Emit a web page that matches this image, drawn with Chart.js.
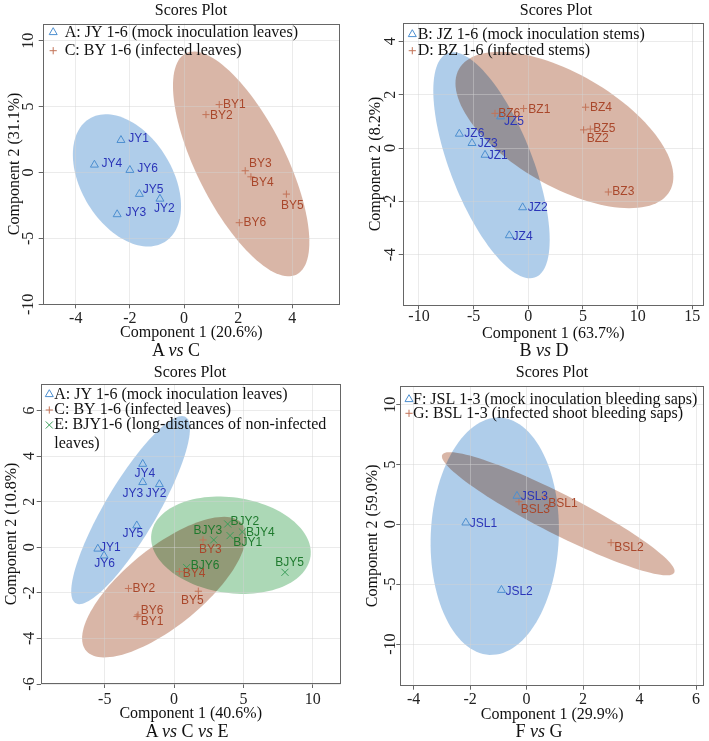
<!DOCTYPE html>
<html><head><meta charset="utf-8">
<script src="https://cdn.jsdelivr.net/npm/chart.js@4.4.1/dist/chart.umd.min.js"></script>
<style>
html,body{margin:0;padding:0;background:#fff;}
#wrap{position:relative;width:709px;height:741px;overflow:hidden;font-family:"Liberation Serif","Times New Roman",serif;color:#111;}
canvas{position:absolute;}
.t{position:absolute;transform:translate(-50%,-50%);white-space:nowrap;font-size:16px;line-height:1;}
.s{font-size:18px;}
</style></head><body><div id="wrap">
<canvas id="c1" width="355" height="370" style="left:0;top:0;width:355px;height:370px"></canvas>
<canvas id="c2" width="354" height="370" style="left:355px;top:0;width:354px;height:370px"></canvas>
<canvas id="c3" width="355" height="371" style="left:0;top:370px;width:355px;height:371px"></canvas>
<canvas id="c4" width="354" height="371" style="left:355px;top:370px;width:354px;height:371px"></canvas>
<div class="t" style="left:191px;top:10px">Scores Plot</div>
<div class="t" style="left:556px;top:10px">Scores Plot</div>
<div class="t" style="left:190px;top:372px">Scores Plot</div>
<div class="t" style="left:552px;top:372px">Scores Plot</div>
<div class="t s" style="left:176px;top:350px">A <i>vs</i> C</div>
<div class="t s" style="left:544px;top:350px">B <i>vs</i> D</div>
<div class="t s" style="left:187px;top:731px">A <i>vs</i> C <i>vs</i> E</div>
<div class="t s" style="left:539px;top:731px">F <i>vs</i> G</div>
</div>
<script>
// ---------------- DATA ----------------
// Panel A vs C
const AC_JY_NAMES = ['JY1','JY2','JY3','JY4','JY5','JY6'];
const AC_JY_X = [-2.33,-0.89,-2.47,-3.31,-1.65,-2.00];
const AC_JY_Y = [2.45,-2.00,-3.18,0.58,-1.64,0.18];
const AC_BY_NAMES = ['BY1','BY2','BY3','BY4','BY5','BY6'];
const AC_BY_X = [1.30,0.81,2.26,2.47,3.78,2.04];
const AC_BY_Y = [5.15,4.39,0.13,-0.33,-1.64,-3.81];
const AC_X_TICKS = [-4,-2,0,2,4];
const AC_Y_TICKS = [-10,-5,0,5,10];

// Panel B vs D
const BD_JZ_NAMES = ['JZ1','JZ2','JZ3','JZ4','JZ5','JZ6'];
const BD_JZ_X = [-3.96,-0.52,-5.15,-1.74,-2.53,-6.31];
const BD_JZ_Y = [-0.26,-2.23,0.18,-3.28,1.18,0.53];
const BD_BZ_NAMES = ['BZ1','BZ2','BZ3','BZ4','BZ5','BZ6'];
const BD_BZ_X = [-0.43,5.06,7.32,5.24,5.67,-3.05];
const BD_BZ_Y = [1.48,0.68,-1.65,1.53,0.71,1.30];
const BD_X_TICKS = [-10,-5,0,5,10,15];
const BD_Y_TICKS = [-4,-2,0,2,4];

// Panel A vs C vs E
const ACE_JY_NAMES = ['JY1','JY2','JY3','JY4','JY5','JY6'];
const ACE_JY_X = [-5.50,-1.06,-2.26,-2.26,-2.69,-5.05];
const ACE_JY_Y = [-0.07,2.76,2.85,3.65,0.95,-0.37];
const ACE_BY_NAMES = ['BY1','BY2','BY3','BY4','BY5','BY6'];
const ACE_BY_X = [-2.67,-3.29,2.09,0.38,1.75,-2.60];
const ACE_BY_Y = [-3.04,-1.81,0.32,-1.07,-1.93,-2.97];
const ACE_BJY_NAMES = ['BJY1','BJY2','BJY3','BJY4','BJY5','BJY6'];
const ACE_BJY_X = [4.04,3.87,2.86,4.93,8.00,0.91];
const ACE_BJY_Y = [0.51,1.02,0.32,0.67,-1.10,-0.89];
const ACE_X_TICKS = [-5,0,5,10];
const ACE_Y_TICKS = [-6,-4,-2,0,2,4,6];

// Panel F vs G
const FG_JSL_NAMES = ['JSL1','JSL2','JSL3'];
const FG_JSL_X = [-2.15,-0.89,-0.34];
const FG_JSL_Y = [0.14,-5.49,2.37];
const FG_BSL_NAMES = ['BSL1','BSL2','BSL3'];
const FG_BSL_X = [0.64,2.99,-0.27];
const FG_BSL_Y = [2.30,-1.53,1.89];
const FG_X_TICKS = [-4,-2,0,2,4,6];
const FG_Y_TICKS = [-10,-5,0,5,10];

// ---------------- label placement (pixel offsets of the text from its marker) ----------------
const LBL = {
  AC_JY: [[7.3,-1.7],[-6,10.3],[8.3,-1.7],[7,-0.7],[3.3,-4],[7.3,-1]],
  AC_BY: [[3.7,0.3],[4,0.7],[3.7,-6.7],[0,6.3],[-5.3,11.7],[4.3,0.3]],
  BD_JZ: [[2.7,1],[5,0],[5.7,0],[3.3,1.7],[3.3,5.3],[5,0]],
  BD_BZ: [[4.7,0.7],[3,9.3],[4,0],[4.3,0.3],[3,-0.7],[3.3,0]],
  ACE_JY: [[2.3,-0.7],[-13.7,9.7],[-20.3,11.7],[-8.3,9.3],[-14.3,8.3],[-9.7,8.3]],
  ACE_BY: [[3.7,5],[4,0.3],[-4,10],[3.3,1.7],[-17.3,9.3],[2.7,-4.7]],
  ACE_BJY: [[3.3,6.7],[2.7,-2.3],[-20.3,-9],[3.7,0.3],[-9.7,-9.7],[4,-2.3]],
  FG_JSL: [[4,1.3],[4,1.7],[3.7,0.7]],
  FG_BSL: [[3.7,7.2],[3.3,5],[1.7,8.3]]
};

// ---------------- styles ----------------
const SERIF = '"Liberation Serif","Times New Roman",serif';
const SANS = '"Liberation Sans",Arial,sans-serif';
const COL = {
  blue:  {mark:'#4d8fd0', text:'#2b35b8', fill:'#afcdea', style:'triangle', r:4.6},
  brown: {mark:'#c27358', text:'#a9472b', fill:'#d9b6a7', style:'cross', r:3.6},
  green: {mark:'#3b9e5a', text:'#1f7a2e', fill:'#acd8b6', style:'crossRot', r:5}
};
const GRID = 'rgba(210,210,210,0.45)';
const CHI95 = Math.sqrt(-2*Math.log(0.05)); // 95% chi-square radius, 2 df

function ellipse(xs, ys){
  const n = xs.length;
  const mx = xs.reduce((a,b)=>a+b,0)/n, my = ys.reduce((a,b)=>a+b,0)/n;
  let sxx=0, syy=0, sxy=0;
  for(let i=0;i<n;i++){const dx=xs[i]-mx, dy=ys[i]-my; sxx+=dx*dx; syy+=dy*dy; sxy+=dx*dy;}
  sxx/=(n-1); syy/=(n-1); sxy/=(n-1);
  const sx=Math.sqrt(sxx), sy=Math.sqrt(syy);
  const d = Math.acos(Math.max(-1,Math.min(1,sxy/(sx*sy))));
  const pts=[];
  for(let k=0;k<=120;k++){
    const a = k/120*2*Math.PI;
    pts.push([mx + CHI95*sx*Math.cos(a+d/2), my + CHI95*sy*Math.cos(a-d/2)]);
  }
  return pts;
}

function drawSymbol(ctx, style, x, y, r, color){
  ctx.save(); ctx.strokeStyle=color; ctx.lineWidth=1; ctx.beginPath();
  if(style==='triangle'){
    const h = r*Math.sin(Math.PI/3);
    ctx.moveTo(x, y-r); ctx.lineTo(x+h, y+r/2); ctx.lineTo(x-h, y+r/2); ctx.closePath();
  } else if(style==='cross'){
    ctx.moveTo(x-r,y); ctx.lineTo(x+r,y); ctx.moveTo(x,y-r); ctx.lineTo(x,y+r);
  } else {
    const q=r*Math.SQRT1_2;
    ctx.moveTo(x-q,y-q); ctx.lineTo(x+q,y+q); ctx.moveTo(x+q,y-q); ctx.lineTo(x-q,y+q);
  }
  ctx.stroke(); ctx.restore();
}

const measureCtx = document.createElement('canvas').getContext('2d');
function widest(labels){
  measureCtx.font = '16px ' + SERIF;
  return Math.max(...labels.map(l=>measureCtx.measureText(String(l)).width));
}

function makeChart(id, cfg){
  const g = cfg.geom;
  const datasets = cfg.groups.map(gr=>{
    const c = COL[gr.color];
    return {
      data: gr.xs.map((x,i)=>({x:x, y:gr.ys[i]})),
      pointStyle: c.style, pointRadius: c.r, pointHoverRadius: c.r,
      pointBorderColor: c.mark, pointBackgroundColor:'rgba(0,0,0,0)',
      borderColor: c.mark, pointBorderWidth: 1, showLine:false
    };
  });
  const yTickPad = g.l - 4 - widest(cfg.yTicks)/2 - g.yTickCx;
  const plugin = {
    id:'decor'+id,
    beforeDraw(chart){
      const {ctx, chartArea:a, scales:{x,y}} = chart;
      ctx.save();
      ctx.fillStyle='#fff'; ctx.fillRect(a.left,a.top,a.right-a.left,a.bottom-a.top);
      ctx.beginPath(); ctx.rect(a.left,a.top,a.right-a.left,a.bottom-a.top); ctx.clip();
      ctx.globalCompositeOperation='multiply';
      cfg.groups.forEach(gr=>{
        const pts = ellipse(gr.xs, gr.ys);
        ctx.beginPath();
        pts.forEach((p,i)=>{const px=x.getPixelForValue(p[0]), py=y.getPixelForValue(p[1]); if(i) ctx.lineTo(px,py); else ctx.moveTo(px,py);});
        ctx.closePath(); ctx.fillStyle=COL[gr.color].fill; ctx.fill();
      });
      ctx.restore();
    },
    afterDatasetsDraw(chart){
      const ctx = chart.ctx;
      ctx.save(); ctx.font = '12px '+SANS; ctx.textBaseline='middle'; ctx.textAlign='left';
      cfg.groups.forEach((gr,di)=>{
        const meta = chart.getDatasetMeta(di);
        meta.data.forEach((pt,i)=>{
          ctx.fillStyle = COL[gr.color].text;
          ctx.fillText(gr.names[i], pt.x + gr.off[i][0], pt.y + gr.off[i][1]);
        });
      });
      ctx.restore();
    },
    afterDraw(chart){
      const {ctx, chartArea:a} = chart;
      ctx.save();
      ctx.strokeStyle='#666'; ctx.lineWidth=1;
      ctx.strokeRect(Math.round(a.left)+0.5, Math.round(a.top)+0.5, Math.round(a.right-a.left)-1, Math.round(a.bottom-a.top)-1);
      ctx.font='16px '+SERIF; ctx.textBaseline='middle'; ctx.textAlign='left'; ctx.fillStyle='#111';
      cfg.legend.lines.forEach(ln=>{
        if(ln.g!==undefined){ const c=COL[cfg.groups[ln.g].color]; drawSymbol(ctx, c.style, a.left+cfg.legend.symX, a.top+ln.y, c.r, c.mark); }
        ctx.fillText(ln.text, a.left+cfg.legend.textX, a.top+ln.y);
      });
      ctx.restore();
    }
  };
  const font16 = {family:SERIF, size:16, lineHeight:1.2};
  return new Chart(document.getElementById(id), {
    type:'scatter',
    data:{datasets},
    plugins:[plugin],
    options:{
      responsive:false, animation:false, devicePixelRatio:1, events:[],
      layout:{autoPadding:false, padding:{left:0, top:g.t, right:g.w-g.r, bottom:0}},
      plugins:{legend:{display:false}, tooltip:{enabled:false}, title:{display:false}},
      scales:{
        x:{type:'linear', min:cfg.xRange[0], max:cfg.xRange[1],
          afterBuildTicks:s=>{s.ticks=cfg.xTicks.map(v=>({value:v}));},
          afterFit:s=>{s.height=g.h-g.b;},
          grid:{color:GRID, lineWidth:1, tickLength:4, tickColor:'#666', drawTicks:true},
          border:{display:false},
          ticks:{font:font16, color:'#222', padding:g.xTickCy-g.b-4-9.6, minRotation:0, maxRotation:0, autoSkip:false, callback:v=>String(v)},
          title:{display:true, text:cfg.xTitle, font:font16, color:'#111', padding:{top:0,bottom:g.h-g.xTitleCy-9.6}}
        },
        y:{type:'linear', min:cfg.yRange[0], max:cfg.yRange[1],
          afterBuildTicks:s=>{s.ticks=cfg.yTicks.map(v=>({value:v}));},
          afterFit:s=>{s.width=g.l;},
          grid:{color:GRID, lineWidth:1, tickLength:4, tickColor:'#666', drawTicks:true},
          border:{display:false},
          ticks:{font:font16, color:'#222', padding:yTickPad, minRotation:90, maxRotation:90, crossAlign:'center', autoSkip:false, callback:v=>String(v)},
          title:{display:true, text:cfg.yTitle, font:font16, color:'#111', padding:{top:g.yTitleCx-9.6,bottom:0}}
        }
      }
    }
  });
}

makeChart('c1', {
  groups:[
    {names:AC_JY_NAMES, xs:AC_JY_X, ys:AC_JY_Y, off:LBL.AC_JY, color:'blue'},
    {names:AC_BY_NAMES, xs:AC_BY_X, ys:AC_BY_Y, off:LBL.AC_BY, color:'brown'}
  ],
  xRange:[-5.22,5.76], yRange:[-10,11.3], xTicks:AC_X_TICKS, yTicks:AC_Y_TICKS,
  xTitle:'Component 1 (20.6%)', yTitle:'Component 2 (31.1%)',
  geom:{w:355,h:370,l:42.7,t:23.5,r:340,b:304.3,yTickCx:29,yTitleCx:15,xTickCy:318.3,xTitleCy:333},
  legend:{symX:10.5, textX:22, lines:[{g:0,y:8.8,text:'A: JY 1-6 (mock inoculation leaves)'},{g:1,y:27.2,text:'C: BY 1-6 (infected leaves)'}]}
});
makeChart('c2', {
  groups:[
    {names:BD_JZ_NAMES, xs:BD_JZ_X, ys:BD_JZ_Y, off:LBL.BD_JZ, color:'blue'},
    {names:BD_BZ_NAMES, xs:BD_BZ_X, ys:BD_BZ_Y, off:LBL.BD_BZ, color:'brown'}
  ],
  xRange:[-11.49,16.07], yRange:[-5.9,4.7], xTicks:BD_X_TICKS, yTicks:BD_Y_TICKS,
  xTitle:'Component 1 (63.7%)', yTitle:'Component 2 (8.2%)',
  geom:{w:354,h:370,l:47.7,t:22.7,r:349,b:305.3,yTickCx:35.7,yTitleCx:20.7,xTickCy:316.7,xTitleCy:333.3},
  legend:{symX:9.6, textX:15, lines:[{g:0,y:11.6,text:'B: JZ 1-6 (mock inoculation stems)'},{g:1,y:28,text:'D: BZ 1-6 (infected stems)'}]}
});
makeChart('c3', {
  groups:[
    {names:ACE_JY_NAMES, xs:ACE_JY_X, ys:ACE_JY_Y, off:LBL.ACE_JY, color:'blue'},
    {names:ACE_BY_NAMES, xs:ACE_BY_X, ys:ACE_BY_Y, off:LBL.ACE_BY, color:'brown'},
    {names:ACE_BJY_NAMES, xs:ACE_BJY_X, ys:ACE_BJY_Y, off:LBL.ACE_BJY, color:'green'}
  ],
  xRange:[-9.62,12.02], yRange:[-6,7.16], xTicks:ACE_X_TICKS, yTicks:ACE_Y_TICKS,
  xTitle:'Component 1 (40.6%)', yTitle:'Component 2 (10.8%)',
  geom:{w:355,h:371,l:40.7,t:14,r:340.7,b:314,yTickCx:29.7,yTitleCx:11.7,xTickCy:330,xTitleCy:343.3},
  legend:{symX:8.6, textX:13.6, lines:[
    {g:0,y:10.3,text:'A: JY 1-6 (mock inoculation leaves)'},
    {g:1,y:26,text:'C: BY 1-6 (infected leaves)'},
    {g:2,y:41,text:'E: BJY1-6 (long-distances of non-infected'},
    {y:60,text:'leaves)'}]}
});
makeChart('c4', {
  groups:[
    {names:FG_JSL_NAMES, xs:FG_JSL_X, ys:FG_JSL_Y, off:LBL.FG_JSL, color:'blue'},
    {names:FG_BSL_NAMES, xs:FG_BSL_X, ys:FG_BSL_Y, off:LBL.FG_BSL, color:'brown'}
  ],
  xRange:[-4.47,6.28], yRange:[-13.48,11.56], xTicks:FG_X_TICKS, yTicks:FG_Y_TICKS,
  xTitle:'Component 1 (29.9%)', yTitle:'Component 2 (59.0%)',
  geom:{w:354,h:371,l:45.3,t:16,r:349,b:315.7,yTickCx:35.3,yTitleCx:17.3,xTickCy:330,xTitleCy:345},
  legend:{symX:8.7, textX:12.7, lines:[{g:0,y:13.3,text:'F: JSL 1-3 (mock inoculation bleeding saps)'},{g:1,y:27.3,text:'G: BSL 1-3 (infected shoot bleeding saps)'}]}
});
</script></body></html>
